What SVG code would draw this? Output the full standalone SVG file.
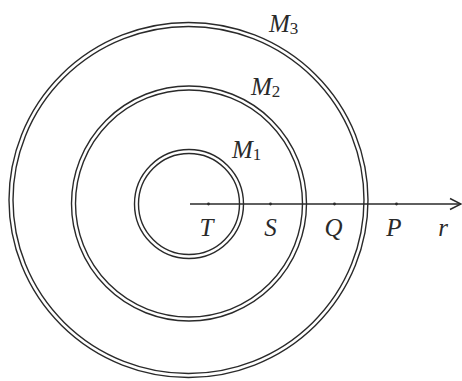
<svg xmlns="http://www.w3.org/2000/svg" width="462" height="381" viewBox="0 0 462 381">
<style>
.ring{fill:none;stroke:#2a2a2a;stroke-width:1.4}
.ax{fill:none;stroke:#2a2a2a;stroke-width:1.5}
.lbl{font-family:"Liberation Serif",serif;font-style:italic;font-size:25px;fill:#2a2a2a}
.sub{font-style:normal;font-size:17px}
.dot{fill:#2a2a2a}
</style>
<rect width="462" height="381" fill="#fff"/>
<g id="M3">
<ellipse class="ring" cx="188.5" cy="200" rx="179.5" ry="177.5"/>
<ellipse class="ring" cx="188.5" cy="200" rx="175.5" ry="173.5"/>
<text class="lbl" x="269" y="32">M<tspan class="sub" dy="2">3</tspan></text>
</g>
<g id="M2">
<circle class="ring" cx="189" cy="203.5" r="117.5"/>
<circle class="ring" cx="189" cy="203.5" r="113.5"/>
<text class="lbl" x="251" y="95">M<tspan class="sub" dy="2">2</tspan></text>
</g>
<g id="M1">
<circle class="ring" cx="189" cy="204" r="54.5"/>
<circle class="ring" cx="189" cy="204" r="50.5"/>
<text class="lbl" x="232" y="158">M<tspan class="sub" dy="2">1</tspan></text>
</g>
<g id="connectors">
<line class="ax" x1="190" y1="204" x2="461" y2="204"/>
<polyline class="ax" points="450,198.5 461,204 450,209.5"/>
</g>
<g id="points">
<circle class="dot" cx="208.5" cy="204" r="1.4"/>
<circle class="dot" cx="270.5" cy="204" r="1.4"/>
<circle class="dot" cx="334.5" cy="204" r="1.4"/>
<circle class="dot" cx="396.5" cy="204" r="1.4"/>
<text class="lbl" x="206.5" y="236" text-anchor="middle">T</text>
<text class="lbl" x="270.5" y="236" text-anchor="middle">S</text>
<text class="lbl" x="333.5" y="236" text-anchor="middle">Q</text>
<text class="lbl" x="394" y="236" text-anchor="middle">P</text>
<text class="lbl" x="443" y="236" text-anchor="middle">r</text>
</g>
</svg>
